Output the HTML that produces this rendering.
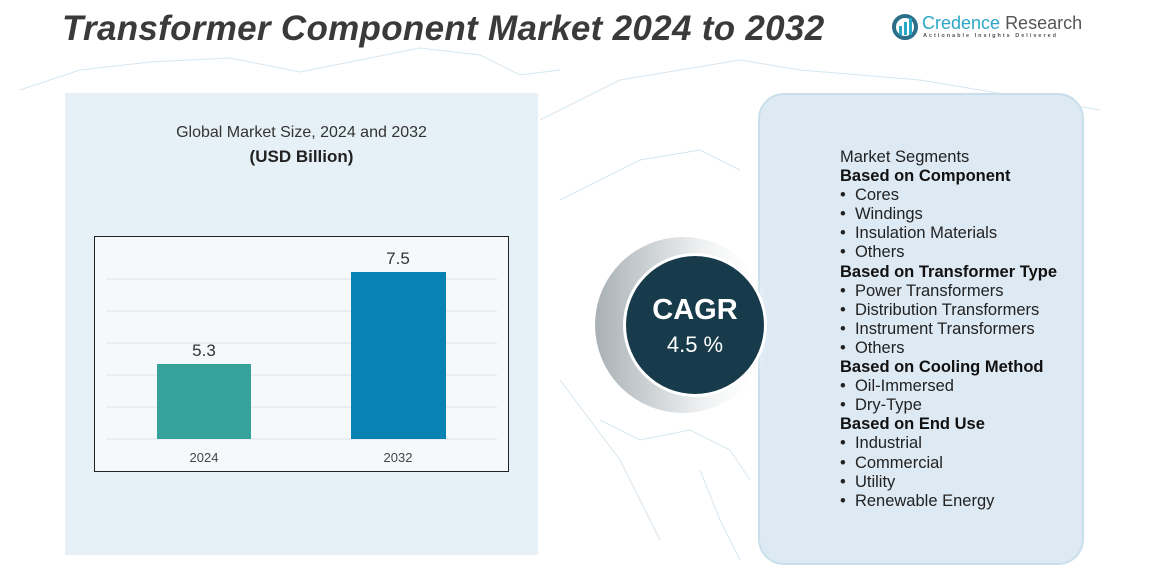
<!DOCTYPE html>
<html><head><style>
body{margin:0;width:1167px;height:568px;overflow:hidden;background:#fff;font-family:"Liberation Sans",sans-serif;position:relative}
.abs{position:absolute}
.title{left:62px;top:9px;font-size:35px;font-weight:bold;font-style:italic;color:#3a3a3a;letter-spacing:0.3px}
.lp{left:65px;top:93px;width:473px;height:462px;background:#e6f0f7}
.rp{left:758px;top:93px;width:322px;height:468px;background:#dde9f3;border:2px solid #c9dfeb;border-radius:26px}
.seg{left:840px;top:148px;font-size:16.5px;line-height:19.1px;color:#222}
.seg b{color:#111}
</style></head><body>
<svg class="abs" style="left:0;top:0" width="1167" height="568">
<g fill="none" stroke="#c6dde8" stroke-width="1" opacity="0.7">
<path d="M20 90 L80 70 L150 62 L230 58 L300 72 L360 60 L420 48 L480 55 L520 75 L560 70"/>
<path d="M540 120 L580 100 L620 80 L680 70 L740 60 L800 70 L860 75 L920 80 L980 90 L1040 100 L1100 110"/>
<path d="M560 200 L600 180 L640 160 L700 150 L740 170"/>
<path d="M560 380 L590 420 L620 460 L640 500 L660 540"/>
<path d="M600 420 L640 440 L690 430 L730 450 L750 480"/>
<path d="M700 470 L720 520 L740 560"/>
</g>
</svg>
<div class="abs title">Transformer Component Market 2024 to 2032</div>
<svg class="abs" style="left:891px;top:13px" width="32" height="30"><circle cx="14" cy="14" r="11" fill="none" stroke="#2b6f8a" stroke-width="4"/><rect x="8" y="13" width="3" height="9" fill="#2aa7c6"/><rect x="13" y="9" width="3" height="13" fill="#2aa7c6"/><rect x="18" y="5" width="3" height="17" fill="#2aa7c6"/></svg>
<div class="abs" style="left:922px;top:13px;font-size:18px;color:#2aa7c6">Credence <span style="color:#555">Research</span></div>
<div class="abs" style="left:923px;top:33px;font-size:5.5px;color:#555;letter-spacing:2px;font-weight:bold">Actionable Insights Delivered</div>
<div class="abs lp"></div>
<div class="abs" style="left:65px;top:124px;width:473px;text-align:center;font-size:16px;color:#333">Global Market Size, 2024 and 2032</div>
<div class="abs" style="left:65px;top:147px;width:473px;text-align:center;font-size:17px;font-weight:bold;color:#222">(USD Billion)</div>
<svg class="abs" style="left:94px;top:236px" width="415" height="236">
<rect x="0.5" y="0.5" width="414" height="235" fill="#f5f9fc" stroke="#222"/>
<g stroke="#dde3e8"><line x1="12" y1="43" x2="403" y2="43"/><line x1="12" y1="75" x2="403" y2="75"/><line x1="12" y1="107" x2="403" y2="107"/><line x1="12" y1="139" x2="403" y2="139"/><line x1="12" y1="171" x2="403" y2="171"/><line x1="12" y1="203" x2="403" y2="203"/></g>
<rect x="63" y="128" width="94" height="75" fill="#35a39c"/>
<rect x="257" y="36" width="95" height="167" fill="#0882b3"/>
<text x="110" y="120" font-size="17" text-anchor="middle" fill="#333" font-family="Liberation Sans">5.3</text>
<text x="304" y="28" font-size="17" text-anchor="middle" fill="#333" font-family="Liberation Sans">7.5</text>
<text x="110" y="226" font-size="13" text-anchor="middle" fill="#444" font-family="Liberation Sans">2024</text>
<text x="304" y="226" font-size="13" text-anchor="middle" fill="#444" font-family="Liberation Sans">2032</text>
</svg>
<div class="abs rp"></div>
<svg class="abs" style="left:580px;top:220px" width="200" height="210">
<defs><linearGradient id="g" x1="0" x2="1"><stop offset="0" stop-color="#a9b1b6"/><stop offset="0.6" stop-color="#eef0f1"/><stop offset="1" stop-color="#fff" stop-opacity="0"/></linearGradient></defs>
<circle cx="103" cy="105" r="88" fill="url(#g)"/>
<circle cx="115" cy="105" r="72" fill="#fff"/>
<circle cx="115" cy="105" r="69" fill="#173b4b"/>
<text x="115" y="99" font-size="29" font-weight="bold" text-anchor="middle" fill="#fff" font-family="Liberation Sans">CAGR</text>
<text x="115" y="132" font-size="22" text-anchor="middle" fill="#fff" font-family="Liberation Sans">4.5 %</text>
</svg>
<div class="abs seg">
<div>Market Segments</div>
<div><b>Based on Component</b></div>
<div>• &nbsp;Cores</div><div>• &nbsp;Windings</div><div>• &nbsp;Insulation Materials</div><div>• &nbsp;Others</div>
<div><b>Based on Transformer Type</b></div>
<div>• &nbsp;Power Transformers</div><div>• &nbsp;Distribution Transformers</div><div>• &nbsp;Instrument Transformers</div><div>• &nbsp;Others</div>
<div><b>Based on Cooling Method</b></div>
<div>• &nbsp;Oil-Immersed</div><div>• &nbsp;Dry-Type</div>
<div><b>Based on End Use</b></div>
<div>• &nbsp;Industrial</div><div>• &nbsp;Commercial</div><div>• &nbsp;Utility</div><div>• &nbsp;Renewable Energy</div>
</div>
</body></html>
